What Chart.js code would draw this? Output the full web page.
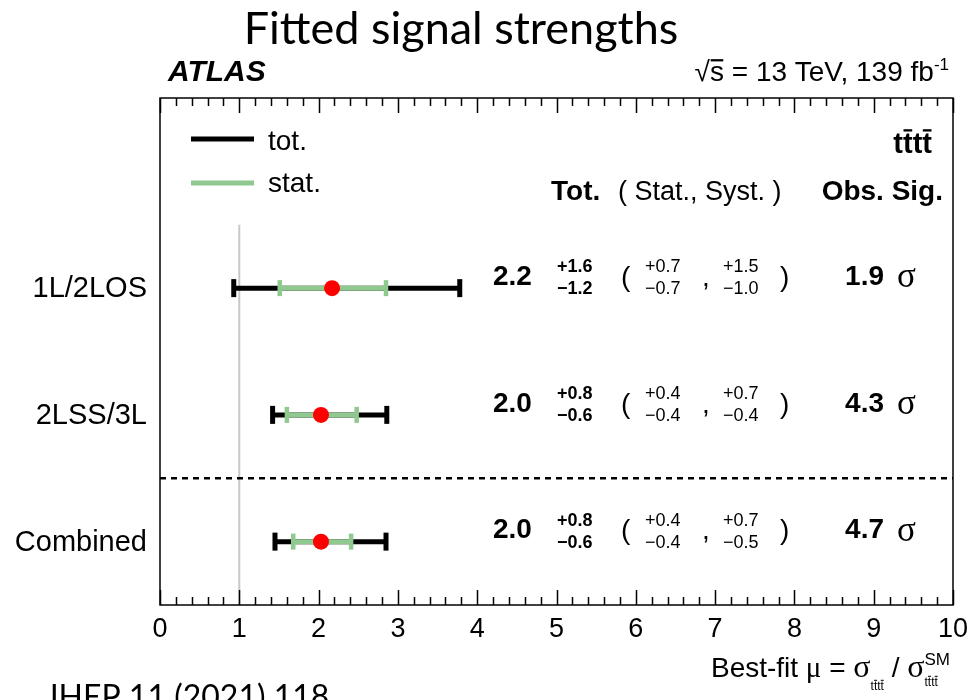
<!DOCTYPE html>
<html>
<head>
<meta charset="utf-8">
<script src="https://cdn.jsdelivr.net/npm/chart.js@4.4.1/dist/chart.umd.min.js"></script>
<style>
  html, body { margin: 0; padding: 0; background: #fff; }
</style>
</head>
<body>
<canvas id="myChart" width="977" height="700"></canvas>
<script>
// channels, top to bottom
const channels = ["1L/2LOS", "2LSS/3L", "Combined"];
const rowY = [2.5, 1.5, 0.5];

// best fit mu and the interval ends
const bestFit = [2.17, 2.03, 2.03];
const totLow = [0.93, 1.42, 1.45];
const totHigh = [3.78, 2.86, 2.85];
const statLow = [1.51, 1.60, 1.68];
const statHigh = [2.85, 2.48, 2.41];

// printed numbers
const muText = ["2.2", "2.0", "2.0"];
const totUp = ["+1.6", "+0.8", "+0.8"];
const totDown = ["\u22121.2", "\u22120.6", "\u22120.6"];
const statUp = ["+0.7", "+0.4", "+0.4"];
const statDown = ["\u22120.7", "\u22120.4", "\u22120.4"];
const systUp = ["+1.5", "+0.7", "+0.7"];
const systDown = ["\u22121.0", "\u22120.4", "\u22120.5"];
const obsSig = ["1.9", "4.3", "4.7"];

const smLine = [1];        // SM expectation
const separatorY = [1];    // dashed line between channels and combined
const minorStep = 0.2;

const SANS = '"Liberation Sans", Arial, Helvetica, sans-serif';
const SERIF = '"Liberation Serif", "Times New Roman", serif';
const GREEN = '#8fc98f';

// ---- small text helpers ----
function fontSize(f) {
    return parseFloat(f.match(/(\d+(\.\d+)?)px/)[1]);
}

function runWidth(ctx, r) {
    if (r.stack) return Math.max(...r.stack.map(s => runWidth(ctx, s)));
    ctx.font = r.f;
    return ctx.measureText(r.t).width;
}

function drawRun(ctx, r, x, base) {
    if (r.stack) {
        r.stack.forEach(s => drawRun(ctx, s, x, base));
        return;
    }
    ctx.font = r.f;
    ctx.textAlign = 'left';
    ctx.textBaseline = 'alphabetic';
    const yb = base + (r.dy || 0);
    ctx.fillText(r.t, x, yb);
    if (r.bars) {
        const size = fontSize(r.f);
        r.bars.forEach(i => {
            const x0 = x + ctx.measureText(r.t.slice(0, i)).width;
            const w = ctx.measureText(r.t[i]).width;
            ctx.fillRect(x0 + w * 0.05, yb - size * (r.barH || 0.8), w * 0.9, Math.max(1, size * 0.08));
        });
    }
}

function drawLine(ctx, runs, x, base, align) {
    const total = runs.reduce((s, r) => s + runWidth(ctx, r), 0);
    let cx = align === 'right' ? x - total : align === 'center' ? x - total / 2 : x;
    runs.forEach(r => {
        drawRun(ctx, r, cx, base);
        cx += runWidth(ctx, r);
    });
}

function put(ctx, t, x, y, font, align, baseline) {
    ctx.font = font;
    ctx.textAlign = align || 'left';
    ctx.textBaseline = baseline || 'middle';
    ctx.fillText(t, x, y);
}

// ---- frame, ticks and all the text ----
const atlasDecor = {
    id: 'atlasDecor',
    afterDraw(chart) {
        const { ctx, chartArea: a, scales: { x, y } } = chart;
        ctx.save();
        ctx.fillStyle = '#000';
        ctx.strokeStyle = '#000';

        // frame
        ctx.lineWidth = 1.5;
        ctx.strokeRect(a.left, a.top, a.right - a.left, a.bottom - a.top);

        // inward ticks top and bottom
        ctx.lineWidth = 1.5;
        const nMinor = Math.round((x.max - x.min) / minorStep);
        for (let k = 0; k <= nMinor; k++) {
            const v = x.min + k * minorStep;
            const px = Math.round(x.getPixelForValue(v)) + 0.5;
            const len = k % 5 === 0 ? 15 : 8;
            ctx.beginPath();
            ctx.moveTo(px, a.bottom);
            ctx.lineTo(px, a.bottom - len);
            ctx.moveTo(px, a.top);
            ctx.lineTo(px, a.top + len);
            ctx.stroke();
        }
        // small tick on the left at the separator
        separatorY.forEach(v => {
            const py = y.getPixelForValue(v);
            ctx.beginPath();
            ctx.moveTo(a.left, py);
            ctx.lineTo(a.left + 5, py);
            ctx.stroke();
        });

        // title and labels above the frame
        put(ctx, 'Fitted signal strengths', 461, 44, '45px Lato, "Open Sans", sans-serif', 'center', 'alphabetic');
        put(ctx, 'ATLAS', 168, 81, 'italic bold 30px ' + SANS, 'left', 'alphabetic');
        drawLine(ctx, [
            { t: '\u221a', f: '28px ' + SANS },
            { t: 's', f: '28px ' + SANS, bars: [0], barH: 0.78 },
            { t: ' = 13 TeV, 139 fb', f: '28px ' + SANS },
            { t: '-1', f: '17px ' + SANS, dy: -11 }
        ], 949, 81, 'right');

        // legend
        ctx.lineWidth = 5;
        ctx.strokeStyle = '#000';
        ctx.beginPath(); ctx.moveTo(191, 139); ctx.lineTo(254, 139); ctx.stroke();
        ctx.strokeStyle = GREEN;
        ctx.beginPath(); ctx.moveTo(191, 183); ctx.lineTo(254, 183); ctx.stroke();
        put(ctx, 'tot.', 268, 150, '28px ' + SANS, 'left', 'alphabetic');
        put(ctx, 'stat.', 268, 192, '28px ' + SANS, 'left', 'alphabetic');

        // process label and column headers
        drawLine(ctx, [{ t: 'tttt', f: 'bold 29px ' + SANS, bars: [1, 3], barH: 0.82 }], 932, 153, 'right');
        put(ctx, 'Tot.', 551, 200, 'bold 28px ' + SANS, 'left', 'alphabetic');
        put(ctx, '( Stat., Syst. )', 618, 200, '27px ' + SANS, 'left', 'alphabetic');
        put(ctx, 'Obs. Sig.', 943, 200, 'bold 28px ' + SANS, 'right', 'alphabetic');

        // per channel labels and numbers
        channels.forEach((name, i) => {
            const py = y.getPixelForValue(rowY[i]);
            put(ctx, name, 147, py + 1, '29px ' + SANS, 'right');
            put(ctx, muText[i], 493, py - 11, 'bold 28px ' + SANS);
            put(ctx, totUp[i], 557, py - 21, 'bold 18px ' + SANS);
            put(ctx, totDown[i], 557, py + 1, 'bold 18px ' + SANS);
            put(ctx, '(', 621, py - 10, '28px ' + SANS);
            put(ctx, statUp[i], 645, py - 21, '18px ' + SANS);
            put(ctx, statDown[i], 645, py + 1, '18px ' + SANS);
            put(ctx, ',', 702, py - 10, '28px ' + SANS);
            put(ctx, systUp[i], 723, py - 21, '18px ' + SANS);
            put(ctx, systDown[i], 723, py + 1, '18px ' + SANS);
            put(ctx, ')', 780, py - 10, '28px ' + SANS);
            put(ctx, obsSig[i], 884, py - 11, 'bold 28px ' + SANS, 'right');
            put(ctx, '\u03c3', 897, py - 1, '35px ' + SERIF, 'left', 'alphabetic');
        });

        // axis title
        drawLine(ctx, [
            { t: 'Best-fit ', f: '28px ' + SANS },
            { t: '\u03bc', f: '29px ' + SERIF },
            { t: ' = ', f: '28px ' + SANS },
            { t: '\u03c3', f: '32px ' + SERIF },
            { t: 'tttt', f: '12px ' + SANS, dy: 13, bars: [1, 3], barH: 0.85 },
            { t: ' / ', f: '28px ' + SANS },
            { t: '\u03c3', f: '32px ' + SERIF },
            { stack: [
                { t: 'SM', f: '17px ' + SANS, dy: -12 },
                { t: 'tttt', f: '12px ' + SANS, dy: 9, bars: [1, 3], barH: 0.85 }
            ] }
        ], 950, 677, 'right');

        // reference line
        put(ctx, 'JHEP 11 (2021) 118', 45, 708, '32px Lato, "Open Sans", sans-serif', 'left', 'alphabetic');

        ctx.restore();
    }
};

// ---- datasets ----
const totSets = channels.map((name, i) => ({
    label: 'tot. ' + name,
    data: [{ x: totLow[i], y: rowY[i] }, { x: totHigh[i], y: rowY[i] }],
    showLine: true,
    borderColor: '#000',
    borderWidth: 5,
    borderCapStyle: 'butt',
    pointStyle: 'line',
    rotation: 90,
    pointRadius: 9,
    pointBorderWidth: 5,
    pointBorderColor: '#000',
    order: 3
}));

const statSets = channels.map((name, i) => ({
    label: 'stat. ' + name,
    data: [{ x: statLow[i], y: rowY[i] }, { x: statHigh[i], y: rowY[i] }],
    showLine: true,
    borderColor: GREEN,
    borderWidth: 5,
    borderCapStyle: 'butt',
    pointStyle: 'line',
    rotation: 90,
    pointRadius: 8,
    pointBorderWidth: 4.5,
    pointBorderColor: GREEN,
    order: 2
}));

const info = {
    datasets: [
        {
            label: 'best fit',
            data: channels.map((c, i) => ({ x: bestFit[i], y: rowY[i] })),
            pointRadius: 8,
            pointBackgroundColor: '#ff0000',
            pointBorderWidth: 0,
            order: 1
        },
        ...statSets,
        ...totSets,
        {
            label: 'separator',
            data: [{ x: 0, y: separatorY[0] }, { x: 10, y: separatorY[0] }],
            showLine: true,
            borderColor: '#000',
            borderWidth: 2.5,
            borderDash: [6, 5],
            pointRadius: 0,
            order: 4
        },
        {
            label: 'SM',
            data: [{ x: smLine[0], y: 0 }, { x: smLine[0], y: 3 }],
            showLine: true,
            borderColor: '#c8c8c8',
            borderWidth: 2,
            pointRadius: 0,
            order: 5
        }
    ]
};

const config = {
    type: 'scatter',
    data: info,
    options: {
        responsive: false,
        animation: false,
        events: [],
        layout: {
            padding: { top: 98, left: 160, right: 24, bottom: 0 }
        },
        scales: {
            x: {
                type: 'linear',
                position: 'bottom',
                min: 0,
                max: 10,
                grid: { display: false, drawTicks: false },
                border: { display: false },
                ticks: {
                    stepSize: 1,
                    autoSkip: false,
                    maxRotation: 0,
                    color: '#000',
                    padding: 8,
                    font: { family: SANS, size: 27 }
                },
                afterFit: function (scale) {
                    scale.height = 95;
                }
            },
            y: {
                type: 'linear',
                min: 0,
                max: 4,
                display: false
            }
        },
        plugins: {
            legend: { display: false },
            tooltip: { enabled: false }
        }
    },
    plugins: [atlasDecor]
};

let fitChart = new Chart('myChart', config);
</script>
</body>
</html>
